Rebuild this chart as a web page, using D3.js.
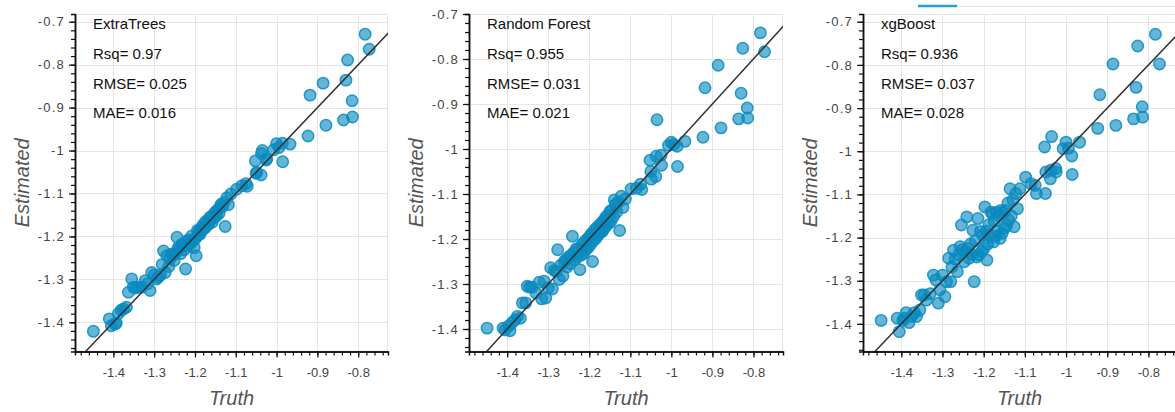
<!DOCTYPE html>
<html>
<head>
<meta charset="utf-8">
<script src="https://cdn.jsdelivr.net/npm/d3@7"></script>
<style>
  body { margin: 0; background: #fff; }
  svg { display: block; font-family: "Liberation Sans", Arial, sans-serif; }
</style>
</head>
<body>
<svg id="chart" width="1175" height="412"></svg>
<script>
// shared test set truth values (same points in all three models)
var truth = [
  -0.783, -0.773, -0.826, -0.830, -0.815, -0.814, -0.836, -0.886, -0.918, -0.879,
  -0.923, -0.967, -0.986, -0.994, -1.000, -0.985, -1.035, -1.025, -1.052, -1.049,
  -1.038, -1.024, -1.075, -1.085, -1.098, -1.072, -1.050, -1.112, -1.037, -1.007,
  -1.118, -1.122, -1.126, -1.129, -1.133, -1.136, -1.139, -1.141, -1.144, -1.147,
  -1.149, -1.152, -1.155, -1.158, -1.160, -1.163, -1.166, -1.168, -1.171, -1.174,
  -1.176, -1.179, -1.182, -1.184, -1.187, -1.190, -1.192, -1.194, -1.197, -1.199,
  -1.202, -1.205, -1.208, -1.211, -1.214, -1.217, -1.220, -1.223, -1.226, -1.229,
  -1.232, -1.235, -1.238, -1.241, -1.244, -1.247, -1.251, -1.254, -1.257, -1.261,
  -1.264, -1.269, -1.273, -1.277, -1.280, -1.285, -1.290, -1.294, -1.300, -1.306,
  -1.310, -1.316, -1.322, -1.330, -1.339, -1.345, -1.351, -1.355, -1.363, -1.368,
  -1.375, -1.381, -1.388, -1.393, -1.396, -1.405, -1.410, -1.449
];

var estExtraTrees = [
  -0.729, -0.764, -0.789, -0.836, -0.884, -0.922, -0.929, -0.843, -0.871, -0.941,
  -0.966, -0.985, -0.983, -0.993, -0.984, -1.026, -1.000, -1.022, -1.024, -1.051,
  -1.057, -1.019, -1.077, -1.082, -1.090, -1.083, -1.053, -1.101, -1.007, -0.998,
  -1.126, -1.110, -1.177, -1.121, -1.131, -1.125, -1.133, -1.146, -1.138, -1.152,
  -1.142, -1.156, -1.149, -1.167, -1.160, -1.155, -1.171, -1.162, -1.175, -1.166,
  -1.181, -1.172, -1.185, -1.179, -1.194, -1.188, -1.197, -1.186, -1.245, -1.205,
  -1.226, -1.210, -1.199, -1.216, -1.208, -1.222, -1.210, -1.276, -1.231, -1.220,
  -1.218, -1.240, -1.227, -1.226, -1.202, -1.238, -1.256, -1.244, -1.241, -1.252,
  -1.270, -1.245, -1.284, -1.234, -1.265, -1.290, -1.295, -1.299, -1.290, -1.284,
  -1.326, -1.310, -1.303, -1.318, -1.318, -1.320, -1.318, -1.299, -1.330, -1.365,
  -1.369, -1.372, -1.380, -1.402, -1.404, -1.408, -1.392, -1.421
];

var estRandomForest = [
  -0.742, -0.784, -0.776, -0.876, -0.909, -0.931, -0.933, -0.814, -0.864, -0.953,
  -0.974, -0.983, -0.994, -0.990, -0.985, -1.039, -0.935, -1.014, -1.025, -1.067,
  -1.061, -1.036, -1.078, -1.087, -1.089, -1.090, -1.050, -1.111, -1.016, -0.992,
  -1.130, -1.105, -1.181, -1.118, -1.140, -1.123, -1.113, -1.150, -1.135, -1.160,
  -1.138, -1.165, -1.147, -1.170, -1.152, -1.176, -1.160, -1.183, -1.165, -1.186,
  -1.170, -1.192, -1.175, -1.199, -1.180, -1.204, -1.250, -1.188, -1.212, -1.194,
  -1.218, -1.200, -1.224, -1.205, -1.232, -1.212, -1.236, -1.268, -1.221, -1.240,
  -1.222, -1.246, -1.230, -1.194, -1.236, -1.255, -1.240, -1.262, -1.246, -1.250,
  -1.282, -1.258, -1.290, -1.224, -1.272, -1.270, -1.311, -1.264, -1.309, -1.331,
  -1.294, -1.333, -1.296, -1.320, -1.307, -1.307, -1.305, -1.342, -1.342, -1.376,
  -1.372, -1.380, -1.386, -1.404, -1.393, -1.402, -1.398, -1.398
];

var estXgBoost = [
  -0.729, -0.798, -0.756, -0.852, -0.897, -0.921, -0.925, -0.798, -0.869, -0.940,
  -0.947, -0.979, -1.011, -0.993, -0.979, -1.054, -0.966, -1.040, -0.990, -1.048,
  -1.064, -1.048, -1.079, -1.075, -1.060, -1.098, -1.098, -1.087, -1.044, -0.994,
  -1.133, -1.098, -1.175, -1.113, -1.150, -1.087, -1.160, -1.120, -1.172, -1.137,
  -1.178, -1.143, -1.190, -1.137, -1.202, -1.150, -1.185, -1.141, -1.196, -1.162,
  -1.210, -1.145, -1.141, -1.198, -1.170, -1.215, -1.252, -1.185, -1.129, -1.225,
  -1.195, -1.232, -1.186, -1.240, -1.156, -1.245, -1.207, -1.302, -1.183, -1.238,
  -1.215, -1.248, -1.225, -1.152, -1.232, -1.256, -1.228, -1.171, -1.221, -1.240,
  -1.279, -1.250, -1.229, -1.268, -1.302, -1.248, -1.302, -1.337, -1.287, -1.321,
  -1.352, -1.298, -1.287, -1.330, -1.345, -1.333, -1.333, -1.368, -1.383, -1.374,
  -1.383, -1.397, -1.374, -1.387, -1.392, -1.418, -1.387, -1.392
];

var modelNames = ["ExtraTrees", "Random Forest", "xgBoost"];
var rsqValues = ["0.97", "0.955", "0.936"];
var rmseValues = ["0.025", "0.031", "0.037"];
var maeValues = ["0.016", "0.021", "0.028"];
var majorTicks = [-1.4, -1.3, -1.2, -1.1, -1, -0.9, -0.8, -0.7];

// axis ranges per panel (bokeh auto ranges)
var xDomains = [[-1.494, -0.727], [-1.493, -0.728], [-1.493, -0.733]];
var yDomains = [[-1.468, -0.682], [-1.450, -0.700], [-1.464, -0.682]];

var estimates = [estExtraTrees, estRandomForest, estXgBoost];

var svg = d3.select("#chart");
var frames = [{ x: 75, w: 313 }, { x: 469, w: 314 }, { x: 863, w: 313 }];
var plotTop = 14, plotH = 337.5;
var fmt = function (d) { return String(d); };

frames.forEach(function (f, i) {
    var x = d3.scaleLinear().domain(xDomains[i]).range([0, f.w]);
    var y = d3.scaleLinear().domain(yDomains[i]).range([plotH, 0]);
    var inX = function (d) { return d >= xDomains[i][0] && d <= xDomains[i][1]; };
    var inY = function (d) { return d >= yDomains[i][0] && d <= yDomains[i][1]; };

    var g = svg.append("g").attr("transform", "translate(" + f.x + "," + plotTop + ")");

    g.append("clipPath").attr("id", "clip" + i)
        .append("rect").attr("width", f.w).attr("height", plotH);

    // grid
    var grid = g.append("g").attr("stroke", "#e5e5e5").attr("stroke-width", 1);
    grid.selectAll(".vx").data(majorTicks.filter(inX)).join("line")
        .attr("x1", d => Math.round(x(d)) + 0.5).attr("x2", d => Math.round(x(d)) + 0.5)
        .attr("y1", 0).attr("y2", plotH);
    grid.selectAll(".hy").data(majorTicks.filter(inY)).join("line")
        .attr("y1", d => Math.round(y(d)) + 0.5).attr("y2", d => Math.round(y(d)) + 0.5)
        .attr("x1", 0).attr("x2", f.w);
    g.append("rect").attr("x", 0.5).attr("y", 0.5).attr("width", f.w - 1).attr("height", plotH - 1)
        .attr("fill", "none").attr("stroke", "#e5e5e5");

    var data = truth.map((t, k) => ({ t: t, e: estimates[i][k] }));

    var plot = g.append("g").attr("clip-path", "url(#clip" + i + ")");
    plot.selectAll("circle").data(data).join("circle")
        .attr("cx", d => x(d.t))
        .attr("cy", d => y(d.e))
        .attr("r", 5.7)
        .attr("fill", "#0587bd")
        .attr("fill-opacity", 0.62)
        .attr("stroke", "#0a8cc2")
        .attr("stroke-opacity", 0.85)
        .attr("stroke-width", 1.5);

    // 1:1 line
    var lo = Math.min(xDomains[i][0], yDomains[i][0]), hi = Math.max(xDomains[i][1], yDomains[i][1]);
    plot.append("line")
        .attr("x1", x(lo)).attr("y1", y(lo))
        .attr("x2", x(hi)).attr("y2", y(hi))
        .attr("stroke", "#333").attr("stroke-width", 1.5);

    // minor ticks
    var minor = d3.range(-1.5, -0.66, 0.02);
    g.append("g").attr("transform", "translate(0," + plotH + ")")
        .call(d3.axisBottom(x).tickValues(minor.filter(inX)).tickSize(4).tickFormat(""));
    g.append("g")
        .call(d3.axisLeft(y).tickValues(minor.filter(inY)).tickSize(4).tickFormat(""));

    // major ticks + labels
    var xAxis = g.append("g").attr("class", "xaxis").attr("transform", "translate(0," + plotH + ")")
        .call(d3.axisBottom(x).tickValues(majorTicks.filter(inX)).tickSize(6).tickSizeOuter(0).tickPadding(10).tickFormat(fmt));
    var yAxis = g.append("g").attr("class", "yaxis")
        .call(d3.axisLeft(y).tickValues(majorTicks.filter(inY)).tickSize(6).tickSizeOuter(0).tickPadding(4).tickFormat(fmt));

    g.selectAll(".domain").attr("stroke", "#111").attr("stroke-width", 1.5);
    g.selectAll(".tick line").attr("stroke", "#111").attr("stroke-width", 1.2);
    g.selectAll(".tick text").attr("fill", "#444").style("font-size", "13px")
        .style("font-family", "'Liberation Sans', Arial, sans-serif");
    yAxis.selectAll(".tick text").attr("letter-spacing", "1.2px");

    // axis labels
    g.append("text")
        .attr("x", f.w / 2).attr("y", 391)
        .attr("text-anchor", "middle")
        .attr("fill", "#555").style("font-size", "20px").style("font-style", "italic")
        .text("Truth");
    g.append("text")
        .attr("transform", "translate(-46," + (plotH / 2) + ") rotate(-90)")
        .attr("text-anchor", "middle")
        .attr("fill", "#555").style("font-size", "20px").style("font-style", "italic")
        .text("Estimated");

    // metrics annotation
    var lines = [modelNames[i], "Rsq= " + rsqValues[i], "RMSE= " + rmseValues[i], "MAE= " + maeValues[i]];
    g.selectAll(".note").data(lines).join("text")
        .attr("class", "note")
        .attr("x", 18)
        .attr("y", (d, k) => 15.3 + k * 29.6)
        .attr("fill", "#111")
        .style("font-size", "15px")
        .text(d => d);
});

// tab strip above the third plot
svg.append("line").attr("x1", 918).attr("x2", 1175).attr("y1", 6.5).attr("y2", 6.5)
    .attr("stroke", "#e6e6e6").attr("stroke-width", 1);
svg.append("line").attr("x1", 918).attr("x2", 957).attr("y1", 6).attr("y2", 6)
    .attr("stroke", "#1ea5dc").attr("stroke-width", 2.5);
</script>
</body>
</html>
